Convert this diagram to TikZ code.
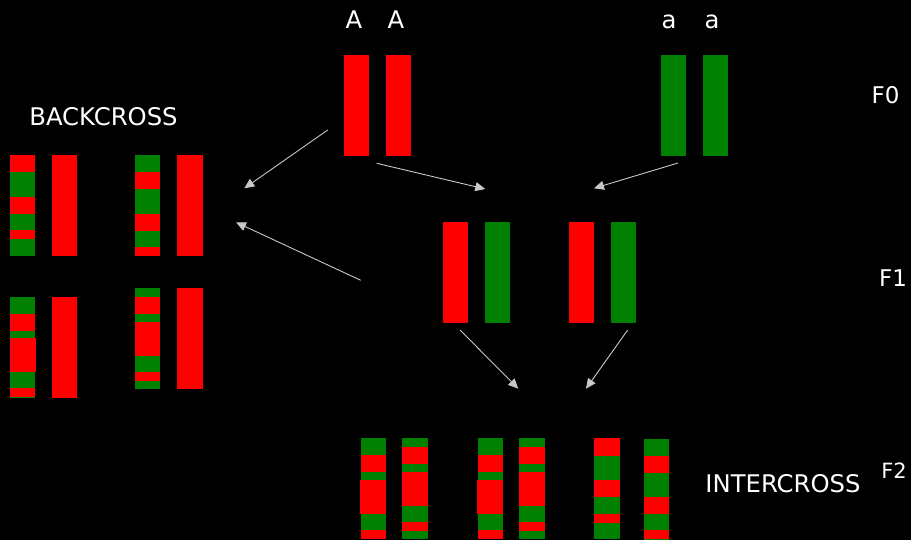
\documentclass[tikz,border=0pt]{standalone}
\usepackage{fontspec}
\setmainfont{DejaVu Sans}
\usetikzlibrary{arrows.meta}

\definecolor{chromred}{RGB}{255,0,0}
\definecolor{chromgreen}{RGB}{0,128,0}
\definecolor{arrowgray}{RGB}{200,200,200}

\begin{document}
\begin{tikzpicture}
		[
			x=1pt, y=-1pt,
			chrom/.style={draw=none, inner sep=0pt, outer sep=0pt, minimum width=25pt, minimum height=101pt},
			wide/.style={minimum width=26pt},
			txt/.style={text=white, inner sep=0pt, anchor=base, font=\fontsize{24.3}{29}\selectfont},
			arrow/.style={-{Triangle[length=10pt,width=9pt]}, draw=arrowgray, line width=0.9pt}
		]

		% background
		\fill[black] (0,0) rectangle (911,540);
		\useasboundingbox (0,0) rectangle (911,540);

		% parents F0
		\node[chrom,fill=chromred]		(AA1) at ( 356.5, 105.5 ) {};
		\node[chrom,fill=chromred]		(AA2) at ( 398.5, 105.5 ) {};
		\node[chrom,fill=chromgreen]	(aa1) at ( 673.5, 105.5 ) {};
		\node[chrom,fill=chromgreen]	(aa2) at ( 715.5, 105.5 ) {};

		% hybrids F1
		\node[chrom,fill=chromred]		(Aa1) at ( 455.5, 272.5 ) {};
		\node[chrom,fill=chromgreen]	(Aa2) at ( 497.5, 272.5 ) {};
		\node[chrom,fill=chromred]		(Aa3) at ( 581.5, 272.5 ) {};
		\node[chrom,fill=chromgreen]	(Aa4) at ( 623.5, 272.5 ) {};

		% backcross
		\node[chrom,fill=chromgreen]		(bc1) at (  22.5, 205.5 ) {};
		\node[chrom,fill=chromred]			(bc2) at (  64.5, 205.5 ) {};
		\node[chrom,fill=chromgreen]		(bc3) at ( 147.5, 205.5 ) {};
		\node[chrom,wide,fill=chromred]		(bc4) at ( 190.0, 205.5 ) {};
		\node[chrom,fill=chromgreen]		(bc5) at (  22.5, 347.5 ) {};
		\node[chrom,fill=chromred]			(bc6) at (  64.5, 347.5 ) {};
		\node[chrom,fill=chromgreen]		(bc7) at ( 147.5, 338.5 ) {};
		\node[chrom,wide,fill=chromred]		(bc8) at ( 190.0, 338.5 ) {};

		% red bands for backcross
		\foreach \t/\b in {155/172,197/214,230/239}
		\fill[chromred] (10,\t) rectangle (35,\b);
		\foreach \t/\b in {172/189,214/231,247/256}
		\fill[chromred] (135,\t) rectangle (160,\b);
		\foreach \t/\b in {314/331,388/397}
		\fill[chromred] (10,\t) rectangle (35,\b);
		\fill[chromred] (10,338) rectangle (36,372);
		\foreach \t/\b in {297/314,322/356,372/381}
		\fill[chromred] (135,\t) rectangle (160,\b);

		% intercross F2
		\node[chrom,fill=chromgreen]		(ic1) at ( 373.5, 488.5 ) {};
		\node[chrom,wide,fill=chromgreen]	(ic2) at ( 415.0, 488.5 ) {};
		\node[chrom,fill=chromgreen]		(ic3) at ( 490.5, 488.5 ) {};
		\node[chrom,wide,fill=chromgreen]	(ic4) at ( 532.0, 488.5 ) {};
		\node[chrom,wide,fill=chromgreen]	(ic5) at ( 607.0, 488.5 ) {};
		\node[chrom,fill=chromgreen]		(ic6) at ( 656.5, 489.5 ) {};

		% red bands for intercross
		\foreach \l/\r in {361/386,478/503}
		{
			\fill[chromred] (\l,455) rectangle (\r,472);
			\fill[chromred] (\l-1,480) rectangle (\r,514);
			\fill[chromred] (\l,530) rectangle (\r,539);
		}
		\foreach \l/\r in {402/428,519/545}
		\foreach \t/\b in {447/464,472/506,522/531}
		\fill[chromred] (\l,\t) rectangle (\r,\b);
		\foreach \t/\b in {438/456,480/497,514/523}
		\fill[chromred] (594,\t) rectangle (620,\b);
		\foreach \t/\b in {456/473,497/514,530/539}
		\fill[chromred] (644,\t) rectangle (669,\b);

		% labels
		\node[txt] (lA1) at ( 354, 29 ) {A};
		\node[txt] (lA2) at ( 396, 29 ) {A};
		\node[txt] (la1) at ( 669, 29 ) {a};
		\node[txt] (la2) at ( 712, 29 ) {a};
		\node[txt] (lbc) at ( 103.5, 126 ) {BACKCROSS};
		\node[txt] (lic) at ( 783, 492 ) {INTERCROSS};
		\node[txt,font=\fontsize{23}{28}\selectfont] (lF0) at ( 885.5, 104 ) {F0};
		\node[txt,font=\fontsize{23}{28}\selectfont] (lF1) at ( 893, 287 ) {F1};
		\node[txt,font=\fontsize{21}{26}\selectfont] (lF2) at ( 894, 478 ) {F2};

		% arrow ends
		\coordinate (AAbcs) at ( 327.7, 130.0 );
		\coordinate (AAbce) at ( 244.3, 188.3 );
		\coordinate (Aabcs) at ( 360.7, 280.3 );
		\coordinate (Aabce) at ( 236.0, 222.3 );
		\coordinate (AAf1s) at ( 376.7, 163.3 );
		\coordinate (AAf1e) at ( 485.3, 189.0 );
		\coordinate (aaf1s) at ( 678.0, 163.0 );
		\coordinate (aaf1e) at ( 594.0, 188.3 );
		\coordinate (f1ls)  at ( 460.0, 330.0 );
		\coordinate (f1le)  at ( 518.3, 388.7 );
		\coordinate (f1rs)  at ( 627.7, 330.0 );
		\coordinate (f1re)  at ( 586.0, 388.7 );

		% crossing arrows
		\foreach \from/\to in {AAbcs/AAbce,Aabcs/Aabce,AAf1s/AAf1e,aaf1s/aaf1e,f1ls/f1le,f1rs/f1re}
		\draw[arrow] (\from) -- (\to);

	\end{tikzpicture}
\end{document}
